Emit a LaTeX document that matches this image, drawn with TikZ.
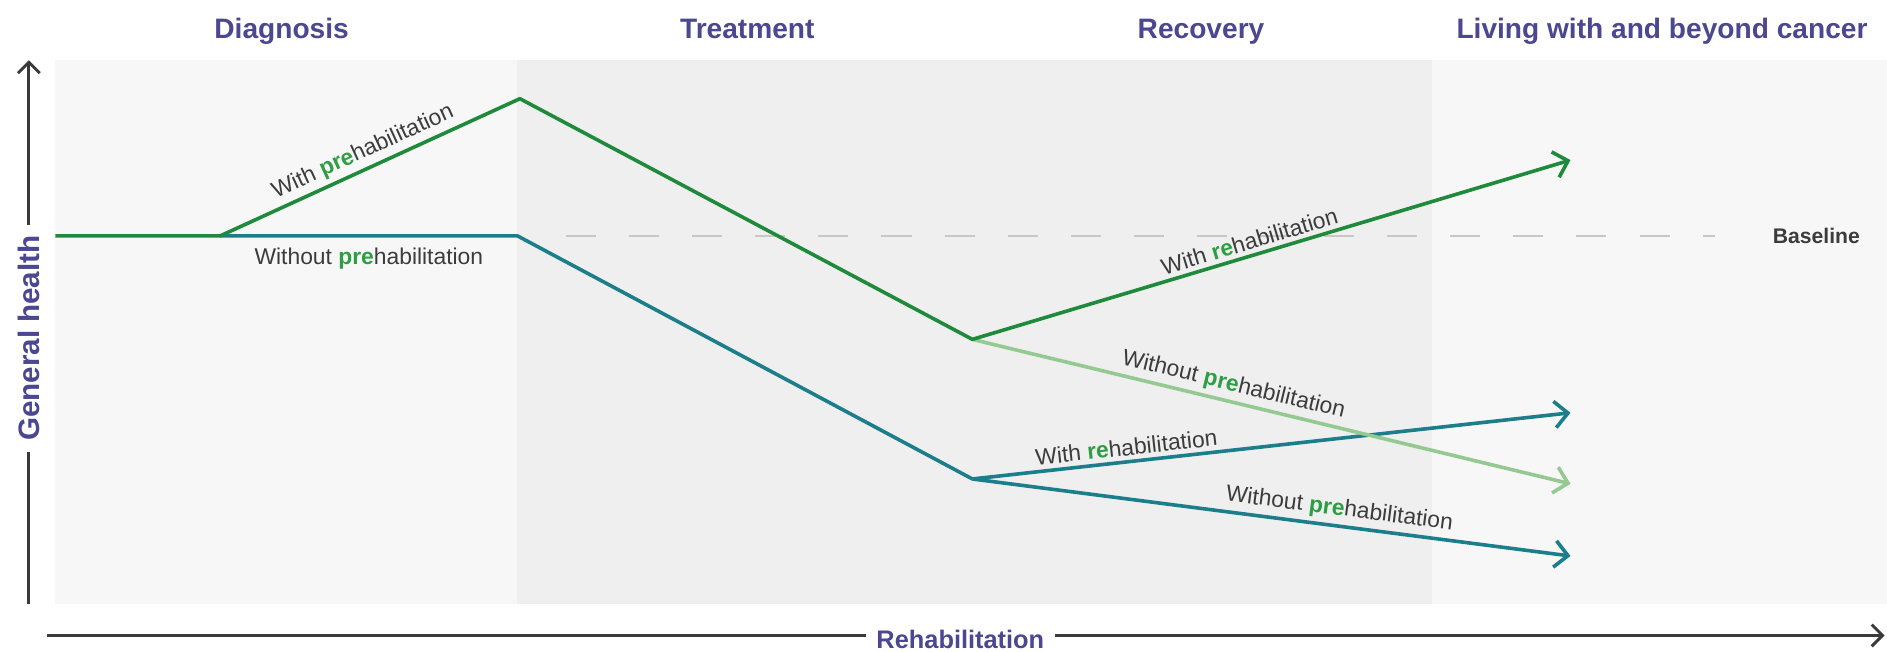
\documentclass[tikz,border=0pt]{standalone}
\usepackage{fontspec}
\setmainfont{Liberation Sans}
\usepackage{tikz}
\usetikzlibrary{positioning}
\usetikzlibrary{arrows.meta}

\definecolor{phaseblue}{HTML}{4B4790}
\definecolor{withgreen}{HTML}{1F8A3B}
\definecolor{noteal}{HTML}{1B7E8A}
\definecolor{palegreen}{HTML}{94C991}
\definecolor{pregreen}{HTML}{2E9E45}
\definecolor{labelgray}{HTML}{3C3C3C}
\definecolor{axisgray}{HTML}{3A3A3A}
\definecolor{panellight}{HTML}{F7F7F7}
\definecolor{paneldark}{HTML}{EFEFEF}

\begin{document}
\begin{tikzpicture}[x=0.02cm, y=-0.02cm,
		phase/.style={font=\fontsize{13.3}{15}\selectfont\bfseries, text=phaseblue, anchor=base},
		axislabel/.style={font=\fontsize{13}{15}\selectfont\bfseries, text=phaseblue, fill=white, inner sep=5pt},
		curve/.style={line width=1.7pt, line join=round},
		lbl/.style={font=\fontsize{10.8}{12}\selectfont, text=labelgray, sloped, inner sep=2pt},
		tip/.style={-{Straight Barb[length=2.2mm,width=4.4mm]}},
		axisline/.style={line width=1.4pt, draw=axisgray, -{Straight Barb[length=1.8mm,width=3.6mm]}},
		baseref/.style={line width=1.1pt, draw=black!22, dash pattern=on 0.5cm off 0.55cm}]
		\useasboundingbox (0,0) rectangle (1568,541);
		\fill[white] (0,0) rectangle (1568,541);
		\fill[panellight] (46,50) rectangle (430,502);
		\fill[paneldark] (430,50) rectangle (1190,502);
		\fill[panellight] (1190,50) rectangle (1568,502);

		\node[phase] (diagnosis) at (234,32) {Diagnosis};
		\node[phase] (treatment) at (621,32) {Treatment};
		\node[phase] (recovery) at (998,32) {Recovery};
		\node[phase] (living) at (1381,32) {Living with and beyond cancer};

		\coordinate (start) at (46,196);
		\coordinate (split) at (183,196);
		\coordinate (peak) at (432,82);
		\coordinate (ledge) at (430,196);
		\coordinate (lowpre) at (808,282);
		\coordinate (lownopre) at (808,398);
		\coordinate (endpre) at (1305,133);
		\coordinate (endfade) at (1305,402);
		\coordinate (endrehab) at (1305,343);
		\coordinate (endnone) at (1305,462);
		\coordinate (dashstart) at (470,196);
		\coordinate (dashend) at (1425,196);

		\draw[baseref] (dashstart) -- (dashend);
		\node[font=\fontsize{10}{12}\selectfont\bfseries, text=labelgray] (baselbl) [right=0.84cm of dashend] {Baseline};

		\draw[curve, noteal] (split) -- node[lbl, below=3pt] (lblnopre) {Without {\color{pregreen}\bfseries pre}habilitation} (ledge) -- (lownopre);
		\draw[curve, noteal, tip] (lownopre) -- node[lbl, above, pos=0.26] (lblrehab) {With {\color{pregreen}\bfseries re}habilitation} (endrehab);
		\draw[curve, noteal, tip] (lownopre) -- node[lbl, above, pos=0.61] (lblnone) {Without {\color{pregreen}\bfseries pre}habilitation} (endnone);
		\draw[curve, palegreen, tip] (lowpre) -- node[lbl, above, pos=0.43] (lblfade) {Without {\color{pregreen}\bfseries pre}habilitation} (endfade);
		\draw[curve, withgreen, tip] (start) -- (split) -- node[lbl, above] (lblpre) {With {\color{pregreen}\bfseries pre}habilitation} (peak) -- (lowpre) -- node[lbl, above, pos=0.47] (lblwithre) {With {\color{pregreen}\bfseries re}habilitation} (endpre);

		\coordinate (yfoot) at (24,502);
		\coordinate (ytop) at (24,50);
		\coordinate (xfoot) at (39,528);
		\coordinate (xtip) at (1566,528);
		\draw[axisline] (yfoot) -- (ytop);
		\draw[axisline] (xfoot) -- (xtip);
		\node[axislabel, font=\fontsize{14}{16}\selectfont\bfseries, rotate=90] (ylabel) at (24,281) {General health};
		\node[axislabel, font=\fontsize{12}{14}\selectfont\bfseries] (xlabel) at (798,531) {Rehabilitation};
	\end{tikzpicture}
\end{document}
